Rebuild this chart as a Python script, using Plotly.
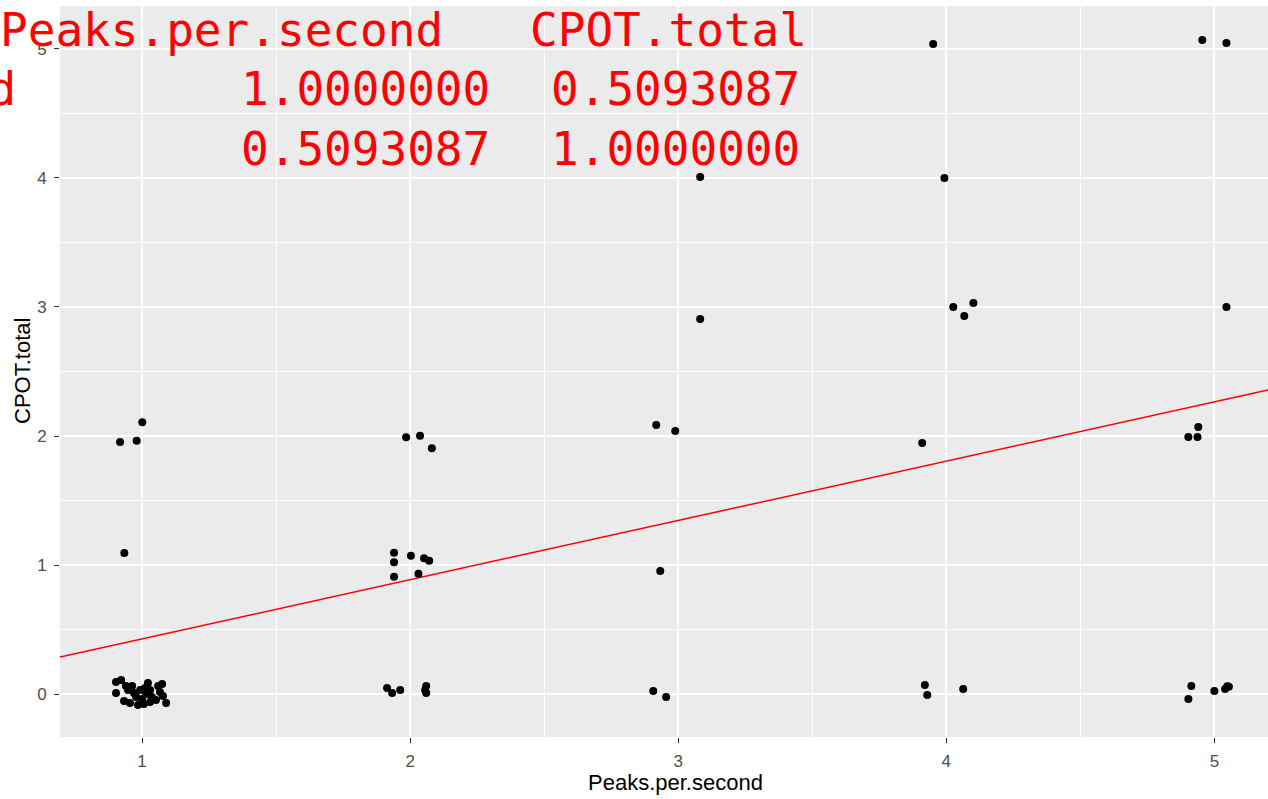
import plotly.graph_objects as go

# Jittered observations: Peaks.per.second (x) vs CPOT.total (y)
peaks = [
    # around 1
    1.001, 0.918, 0.980, 0.934,
    0.903, 0.903, 0.922, 0.933, 0.948, 0.955, 0.963, 0.978, 0.985, 1.000,
    1.007, 1.015, 1.022, 1.030, 1.037, 1.052, 1.060, 1.067, 1.075, 1.078,
    1.090, 0.993, 0.940, 0.970, 1.030, 1.011,
    # around 2
    1.985, 2.037, 2.081, 1.940, 1.940, 2.003, 2.052, 2.071, 1.940, 2.031,
    1.914, 1.933, 1.963, 2.060, 2.056, 2.060,
    # around 3
    3.082, 3.082, 2.918, 2.989, 2.933, 2.907, 2.955,
    # around 4
    3.951, 3.993, 4.026, 4.067, 4.101, 3.910, 3.920, 3.929, 4.063,
    # around 5
    4.955, 5.045, 5.045, 4.903, 4.937, 4.940, 4.903, 4.914, 5.000, 5.040,
    5.048, 5.054,
]
cpot = [
    2.106, 1.953, 1.964, 1.093,
    0.093, 0.008, 0.109, -0.054, 0.031, -0.070, 0.062, -0.023, -0.085, -0.039,
    -0.078, 0.000, 0.085, 0.031, -0.023, -0.047, 0.062, 0.016, 0.078, -0.016,
    -0.070, 0.031, 0.062, 0.008, -0.062, 0.047,
    1.990, 2.002, 1.905, 1.095, 1.021, 1.072, 1.052, 1.033, 0.909, 0.933,
    0.047, 0.008, 0.031, 0.062, 0.031, 0.008,
    4.008, 2.907, 2.085, 2.039, 0.953, 0.023, -0.023,
    5.039, 4.000, 3.000, 2.930, 3.031, 1.946, 0.070, -0.008, 0.039,
    5.070, 5.047, 3.000, 1.992, 1.992, 2.070, -0.039, 0.062, 0.023, 0.039,
    0.060, 0.056,
]

# Least-squares line
fit_intercept = -0.032
fit_slope = 0.4592

# Correlation matrix printed over the plot
var_names = ["Peaks.per.second", "CPOT.total"]
corr = [[1.0000000, 0.5093087],
        [0.5093087, 1.0000000]]

x_range = [0.694, 5.2]
y_range = [-0.333, 5.333]
x_ticks = [1, 2, 3, 4, 5]
y_ticks = [0, 1, 2, 3, 4, 5]

W, H = 1268, 799
M_L, M_R, M_T, M_B = 60, 0, 6, 62
PW, PH = W - M_L - M_R, H - M_T - M_B


def px_x(px):
    return (px - M_L) / PW


def px_y(py):
    return (H - M_B - py) / PH


fig = go.Figure()

fig.add_trace(go.Scatter(
    x=x_range,
    y=[fit_intercept + fit_slope * v for v in x_range],
    mode="lines",
    line=dict(color="#FF0000", width=1.5),
    hoverinfo="skip",
))

fig.add_trace(go.Scatter(
    x=peaks, y=cpot, mode="markers",
    marker=dict(color="black", size=8, line=dict(width=0)),
))

mono = dict(family="DejaVu Sans Mono, Liberation Mono, monospace", size=46, color="#FF0000")
annotations = []


def put(text, px, cy, anchor):
    annotations.append(dict(
        text=text, xref="paper", yref="paper",
        x=px_x(px), y=px_y(cy), xanchor=anchor, yanchor="middle",
        showarrow=False, font=mono,
    ))


# header row
put(var_names[0], -2, 30, "left")
put(var_names[1], 528, 30, "left")
# body rows: row names are left-aligned in a fixed-width column
row_centers = [89, 149]
row_name_right = 18
for i, name in enumerate(var_names):
    put(name.ljust(len(var_names[0])), row_name_right, row_centers[i], "right")
    put(f"{corr[i][0]:.7f}", 492, row_centers[i], "right")
    put(f"{corr[i][1]:.7f}", 802, row_centers[i], "right")

title_font = dict(family="Liberation Sans, Arial, sans-serif", size=22, color="black")
annotations.append(dict(
    text="Peaks.per.second", xref="paper", yref="paper",
    x=px_x(675), y=px_y(783), xanchor="center", yanchor="middle",
    showarrow=False, font=title_font,
))
annotations.append(dict(
    text="CPOT.total", xref="paper", yref="paper",
    x=px_x(22), y=px_y(371), xanchor="center", yanchor="middle",
    textangle=-90, showarrow=False, font=title_font,
))

axis_common = dict(
    showline=False, zeroline=False,
    gridcolor="white", gridwidth=1.6,
    ticks="outside", ticklen=5, tickwidth=1.2, tickcolor="#333333",
    tickfont=dict(family="Liberation Sans, Arial, sans-serif", size=17, color="#4D4D4D"),
    minor=dict(showgrid=True, gridcolor="white", gridwidth=0.8, ticks=""),
)

fig.update_layout(
    width=W, height=H,
    margin=dict(l=M_L, r=M_R, t=M_T, b=M_B),
    paper_bgcolor="white", plot_bgcolor="#EBEBEB",
    showlegend=False,
    xaxis=dict(range=x_range, tickvals=x_ticks, ticklabelstandoff=4, **axis_common),
    yaxis=dict(range=y_range, tickvals=y_ticks, ticklabelstandoff=4, **axis_common),
    annotations=annotations,
)
fig.update_xaxes(minor=dict(tick0=0.5, dtick=1))
fig.update_yaxes(minor=dict(tick0=0.5, dtick=1))

fig.write_html("out.html")
